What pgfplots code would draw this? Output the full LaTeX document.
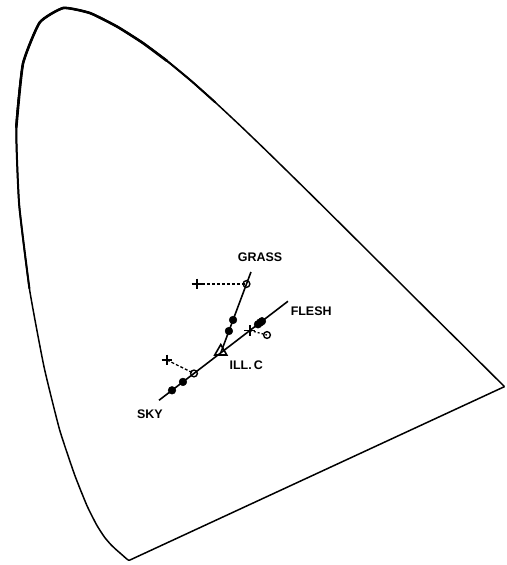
\documentclass[border=0pt]{standalone}
\usepackage{pgfplots}
\pgfplotsset{compat=1.18}
\usepackage{fontspec}
\setmainfont{Liberation Sans}

% CIE 1931 spectral locus, 380--700 nm
\pgfplotstableread{
x y
0.1741 0.0050
0.1740 0.0050
0.1738 0.0049
0.1736 0.0049
0.1733 0.0048
0.1730 0.0048
0.1726 0.0048
0.1721 0.0048
0.1714 0.0051
0.1703 0.0058
0.1689 0.0069
0.1669 0.0086
0.1644 0.0109
0.1611 0.0138
0.1566 0.0177
0.1510 0.0227
0.1440 0.0297
0.1355 0.0399
0.1241 0.0578
0.1096 0.0868
0.0913 0.1327
0.0687 0.2007
0.0454 0.2950
0.0235 0.4127
0.0082 0.5384
0.0039 0.6548
0.0139 0.7502
0.0389 0.8120
0.0743 0.8338
0.1142 0.8262
0.1547 0.8059
0.1929 0.7816
0.2296 0.7543
0.2658 0.7243
0.3016 0.6923
0.3373 0.6589
0.3731 0.6245
0.4087 0.5896
0.4441 0.5547
0.4788 0.5202
0.5125 0.4866
0.5448 0.4544
0.5752 0.4242
0.6029 0.3965
0.6270 0.3725
0.6482 0.3514
0.6658 0.3340
0.6801 0.3197
0.6915 0.3083
0.7006 0.2993
0.7079 0.2920
0.7140 0.2859
0.7190 0.2809
0.7230 0.2770
0.7260 0.2740
0.7283 0.2717
0.7300 0.2700
0.7311 0.2689
0.7320 0.2680
0.7334 0.2666
0.7344 0.2656
0.7347 0.2653
}\locus

% somewhat heavier stretch of the locus around the green apex
\pgfplotstableread{
x y
0.0235 0.4127
0.0082 0.5384
0.0039 0.6548
0.0139 0.7502
0.0389 0.8120
0.0743 0.8338
0.1142 0.8262
0.1547 0.8059
0.1929 0.7816
0.2296 0.7543
0.2658 0.7243
0.3016 0.6923
}\apexouter

% heaviest part, right at the apex
\pgfplotstableread{
x y
0.0039 0.6548
0.0139 0.7502
0.0389 0.8120
0.0743 0.8338
0.1142 0.8262
0.1547 0.8059
0.1929 0.7816
0.2296 0.7543
}\apex

\tikzset{lbl/.style={font=\fontsize{12.5}{13}\selectfont\bfseries, inner sep=1pt}}

\begin{document}
\begin{tikzpicture}
\begin{axis}[
  scale only axis, width=507bp, height=565bp,
  xmin=-0.0205, xmax=0.7385, ymin=-0.0025, ymax=0.8458,
  hide axis, clip=false,
]
\path (rel axis cs:0,0) rectangle (rel axis cs:1,1);

% spectral locus and line of purples
\addplot[black, line width=1.5pt, line join=round, smooth, tension=0.3] table {\locus};
\addplot[black, line width=2.0pt, line join=round, line cap=round, smooth, tension=0.3] table {\apexouter};
\addplot[black, line width=2.6pt, line join=round, line cap=round, smooth, tension=0.3] table {\apex};
\addplot[black, line width=1.5pt] coordinates {(0.1741,0.0050) (0.7347,0.2653)};

% SKY -- ILL. C -- FLESH line, and the GRASS branch
\addplot[black, line width=1.6pt] coordinates {(0.2175,0.2448) (0.4106,0.3935)};
\addplot[black, line width=1.6pt] coordinates {(0.310,0.316) (0.3552,0.4374)};

% shifts to the reproduced colours
\addplot[black, line width=1.3pt, dash pattern=on 3pt off 2pt] coordinates {(0.2744,0.4194) (0.3485,0.4194)};
\addplot[black, line width=1.3pt, dash pattern=on 3pt off 2pt] coordinates {(0.2295,0.3053) (0.2699,0.2851)};
\addplot[black, line width=1.3pt, dash pattern=on 2pt off 2pt] coordinates {(0.3537,0.3496) (0.3792,0.3428)};

% filled points
\addplot[only marks, mark=*, mark size=3.9pt, black] coordinates {
(0.2534,0.2724) (0.2370,0.2598)
(0.3284,0.3654) (0.3222,0.3488)
(0.3657,0.3589) (0.3690,0.3615) (0.3717,0.3635)
};
% open points
\addplot[only marks, mark=o, mark size=3.4pt, line width=1.4pt, black, mark options={fill=white}] coordinates {
(0.2699,0.2851) (0.3485,0.4194) (0.3792,0.3428)
};
% crosses
\addplot[only marks, mark=+, mark size=5.5pt, line width=1.8pt, black] coordinates {
(0.2744,0.4194) (0.2295,0.3053) (0.3537,0.3496)
};
% illuminant C
\addplot[only marks, mark=triangle, mark size=7pt, line width=1.6pt, black, mark options={fill=white}] coordinates {(0.310,0.318)};

\node[lbl] at (axis cs:0.3687,0.4600) {GRASS};
\node[lbl, anchor=west] at (axis cs:0.4130,0.3789) {FLESH};
\node[lbl, anchor=west] at (axis cs:0.3215,0.2978) {ILL.\,C};
\node[lbl] at (axis cs:0.2040,0.2242) {SKY};
\end{axis}
\end{tikzpicture}
\end{document}
